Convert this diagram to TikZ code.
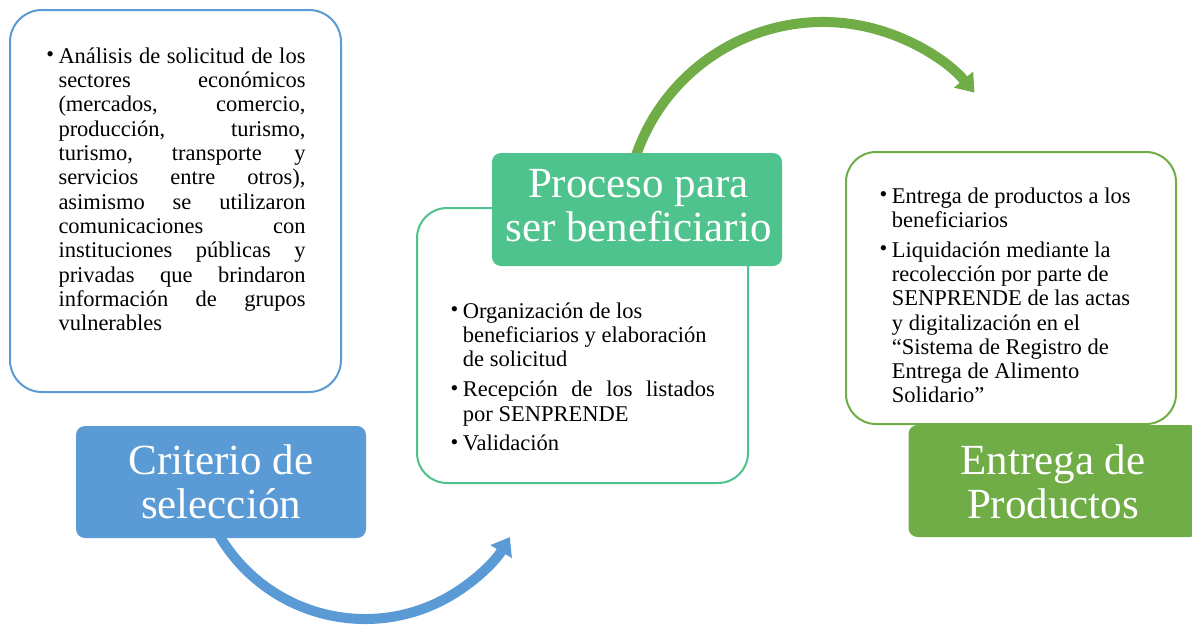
\documentclass[tikz,border=0pt]{standalone}
\usepackage{fontspec}
\setmainfont{Liberation Serif}
\usetikzlibrary{arrows.meta}
\definecolor{cblue}{RGB}{91,155,213}
\definecolor{cteal}{RGB}{78,195,141}
\definecolor{cgreen}{RGB}{112,173,71}
\newcommand\Bul{\llap{\raisebox{1.5pt}{\fontsize{22}{22}\selectfont\textbullet}\hspace{4.5pt}}}
\newcommand\J[1]{\hbox to \hsize{#1}}
\newcommand\R[1]{\hbox{#1}}
\newcommand\Gap{\vskip5.5pt}
\newcommand\Blk[2]{\vtop{\hsize=#1\fontsize{22.5}{24.3}\selectfont\lineskiplimit=-30pt\lineskip=0pt\parindent=0pt #2}}
\newcommand\TwoC[2]{\vtop{\baselineskip=44pt\lineskiplimit=-50pt\lineskip=0pt\halign{\hfil##\hfil\cr#1\cr#2\cr}}}
\tikzset{
  outbox/.style={draw=#1, fill=white, line width=2pt, rounded corners=32pt, inner sep=0pt},
  fillbox/.style={fill=#1, draw=none, rounded corners=9pt, inner sep=0pt, minimum width=290pt, minimum height=112pt},
  ttext/.style={anchor=base, inner sep=0pt, text=white, font=\fontsize{43}{44}\selectfont},
  btext/.style={anchor=base west, inner sep=0pt},
  bigarrow/.style={line width=10pt, -{Triangle[width=24pt,length=17pt]}}
}
\begin{document}
\begin{tikzpicture}[x=1pt,y=-1pt]
\useasboundingbox (0,0) rectangle (1192,627);
\fill[white] (0,0) rectangle (1192,627);
\clip (0,0) rectangle (1192,627);

% arcs
\coordinate (bc) at (365,450);
\coordinate (gc) at (823,219.7);
\draw[bigarrow, cblue] (bc) ++(150:169) arc[start angle=150, end angle=31, radius=169];
\draw[bigarrow, cgreen] (gc) ++(195:197.7) arc[start angle=195, end angle=320, radius=197.7];

% outline boxes
\node[outbox=cblue, minimum width=331pt, minimum height=382pt] (b1) at (175.5,201) {};
\node[outbox=cteal, minimum width=331pt, minimum height=275pt, rounded corners=30pt] (b2) at (582.5,345.5) {};
\node[outbox=cgreen, minimum width=330pt, minimum height=272pt, rounded corners=30pt] (b3) at (1011,288) {};

% filled boxes
\node[fillbox=cblue] (crit) at (221,482) {};
\node[fillbox=cteal, minimum height=113pt] (proc) at (637,209.5) {};
\node[fillbox=cgreen] (entr) at (1053.5,481) {};

% titles
\node[ttext] (critt) at (221,474) {\TwoC{Criterio de}{selección}};
\node[ttext] (proct) at (638.5,197) {\TwoC{Proceso para}{ser beneficiario}};
\node[ttext] (entrt) at (1053,474) {\TwoC{Entrega de}{Productos}};

% body texts
\node[btext] (t1) at (58.3,63.3) {\Blk{247pt}{%
\J{\Bul Análisis de solicitud de los}
\J{sectores económicos}
\J{(mercados, comercio,}
\J{producción, turismo,}
\J{turismo, transporte y}
\J{servicios entre otros),}
\J{asimismo se utilizaron}
\J{comunicaciones con}
\J{instituciones públicas y}
\J{privadas que brindaron}
\J{información de grupos}
\R{vulnerables}}};

\node[btext] (t2) at (462.7,318.3) {\Blk{252pt}{%
\R{\Bul Organización de los}
\R{beneficiarios y elaboración}
\R{de solicitud}
\Gap
\J{\Bul Recepción de los listados}
\R{por SENPRENDE}
\Gap
\R{\Bul Validación}}};

\node[btext] (t3) at (891.7,203) {\Blk{280pt}{%
\R{\Bul Entrega de productos a los}
\R{beneficiarios}
\Gap
\R{\Bul Liquidación mediante la}
\R{recolección por parte de}
\R{SENPRENDE de las actas}
\R{y digitalización en el}
\R{“Sistema de Registro de}
\R{Entrega de Alimento}
\R{Solidario”}}};
\end{tikzpicture}
\end{document}
